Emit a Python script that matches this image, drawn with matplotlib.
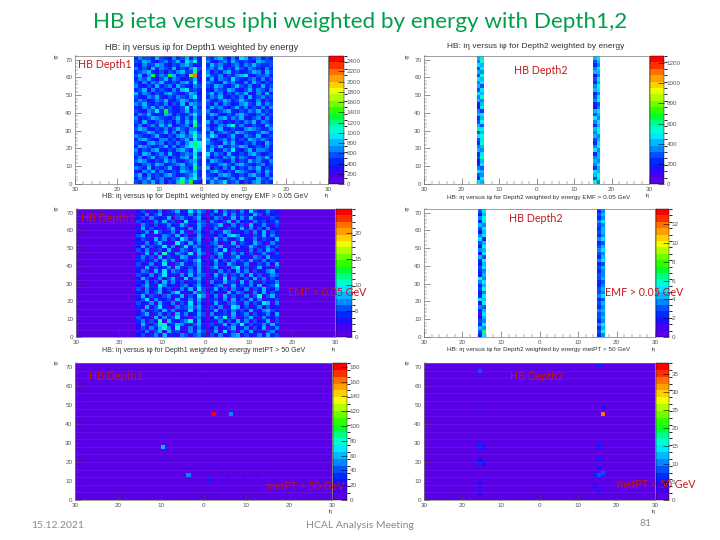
import matplotlib
matplotlib.use('Agg')
import matplotlib.pyplot as plt
import numpy as np
from matplotlib.colors import ListedColormap, BoundaryNorm

# levels of the 20 step root palette, written as base 32 digits, top row (ieta 70) first
# columns are iphi -16..-1 then 1..16
depth1_levels = [
    "3544364325346353" + "4356425376345343",
    "4365324534637583" + "5324536434326544",
    "3253465324356423" + "3645324535464334",
    "5342635436243574" + "4536243642543253",
    "3456324243563492" + "5243563423465364",
    "4625a354a6342ch3" + "6435243567324453",
    "3546324635423462" + "3625437432453524",
    "4253546324356383" + "5432645325364243",
    "5324363452643254" + "4365324643523634",
    "3462534325367343" + "3254365324635425",
    "6354243564324652" + "4635243546325363",
    "4325463243543573" + "3546324352634534",
    "3542354632465343" + "5324653464325243",
    "5463243524362654" + "4253542356436354",
    "3254635342347363" + "3645324635243525",
    "4325473a43246354" + "5324563243546343",
    "3546323652433574" + "4653243564324534",
    "5234654324635363" + "3425635463245253",
    "4363245342536483" + "6354232435463543",
    "3524536462345294" + "4235468353243264",
    "4653243524643553" + "5346324325654335",
    "3246534635253674" + "3624543654234653",
    "5432463243564585" + "4753246325436234",
    "3564325534246374" + "6324535243654543",
    "4325645243535798" + "5432646324353264",
    "3654234635246797" + "3546235465234353",
    "5243563243564386" + "4623547324635543",
    "4365245363245473" + "7354263243564234",
    "3524634524356384" + "5243546354235463",
    "4653243645324563" + "3654235243645325",
    "3245365234563473" + "4325643564324534",
    "5436243463254394" + "6243536243546243",
    "3254635324365463" + "3564243654325364",
    "4625343564234573" + "4325653243564253",
    "3546245324574684" + "5463245364326435",
    "4354635243695a33" + "3645734524356343",
]
# these are one level under the colours seen, depth1_emf_lift puts them back
depth1_emf_lift = 1
depth1_emf_levels = [
    "1302140235126353" + "2514230416312421",
    "2140351203214142" + "3125042321530312",
    "1304212503421351" + "1430251425212031",
    "3120425130162143" + "4213504120423124",
    "0421302412530253" + "2350141305124203",
    "2513120351204152" + "1402321524031412",
    "1240631241520341" + "3125402130415031",
    "3512014325130152" + "2031564120325142",
    "1320524031642350" + "1524203612403215",
    "2041352107315242" + "3402150321531042",
    "1523026140261431" + "1350224125302413",
    "3140231520431352" + "2416130204132530",
    "0251407214326153" + "1352042413024213",
    "2413051320541240" + "3041235120431522",
    "1302415240132461" + "2513042315204131",
    "3124026103521352" + "1420531240132415",
    "2051312405213151" + "3512046130251203",
    "1430526143024252" + "2041315240312451",
    "3214036120415143" + "1524032415130243",
    "0531240352061452" + "2306142031524131",
    "2140315241302241" + "4125230514203124",
    "1352064120341352" + "1340251324150236",
    "3041251302415163" + "2513042140325214",
    "1240351246021533" + "3120514302415031",
    "2513203412503174" + "1405231240371352",
    "1360421305214252" + "2314051325140213",
    "3124052140316141" + "1520342041326504",
    "2051362014235352" + "3140265130241312",
    "0412315240126141" + "2503142315204531",
    "1350241305241253" + "4123051240312415",
    "3120514236120342" + "1537240135204213",
    "2403170521347151" + "2041315240312503",
    "1520386125420352" + "3125042713024152",
    "0314257417204142" + "1402351240315024",
    "2140351523014253" + "2516130425120341",
    "1302415120431342" + "3041245130241523",
]
# rows are again top first, columns iphi -16, -15 then 15, 16
depth2_levels = [
    "6767", "5846", "7635", "4757", "6566", "4825", "7647", "5736", "6458",
    "4767", "7635", "5847", "6558", "3634", "1725", "5367", "6746", "3675",
    "4857", "6436", "9768", "4658", "7865", "4746", "3837", "5658", "6575",
    "3736", "4856", "2665", "3757", "5436", "7676", "4568", "3749", "7685",
]
depth2_emf_levels = [
    "4735", "2646", "5835", "3757", "6545", "4736", "2646", "5735", "7357",
    "4634", "2846", "5657", "2745", "6436", "3857", "2634", "4746", "3535",
    "2645", "8546", "5734", "3635", "4846", "2545", "3757", "7634", "2846",
    "5435", "3656", "0745", "2646", "4535", "3757", "6536", "4948", "2735",
]
# sparse met panels: iphi, ieta, energy
met1_phi = [2.5, 6.5, -9.5, -3.5, 1.5, 5, 9, 12.5, -4.5, -0.5, -3.5]
met1_eta = [44, 44, 27, 12, 10, 11, 11, 11, 64, 64, 6]
met1_val = [178, 52, 62, 55, 28, 17, 17, 12, 14, 14, 8]
met2_phi = [-15.5, -15.5, -15.5, -15.5, -14.5, -15.5, -15.5, -14.5, -15.5, -15.5,
            15.5, 16.5, 16.5, 15.5, 15.5, 15.5, 14.5, 15.5, 16.5, 15.5, 14.5, 15.5]
met2_eta = [67, 46, 29, 27, 27, 20, 18, 18, 8, 2,
            70, 44, 48, 29, 27, 20, 12, 12, 13, 16, 7, 3]
met2_val = [8, 6, 6, 6, 4, 5, 6, 4, 4, 4, 6, 33, 4, 6, 4, 6, 7, 8, 9, 4, 4, 4]

palette = ['#5a00e6', '#4400f0', '#1a10ff', '#0028ff', '#0050ff', '#0088ff', '#00b8ff',
           '#00e8ff', '#00ffd0', '#00ff80', '#00ff30', '#30ff00', '#70ff00', '#b0ff00',
           '#f0ff00', '#ffd000', '#ffa000', '#ff7000', '#ff3000', '#ff0000']
cmap = ListedColormap(palette)
cmap.set_bad('white')

RED = '#c4161c'
GREY = '#8a8a8a'
TXT = '#555555'


def px_axes(fig, x0, y0, x1, y1):
    return fig.add_axes([x0 / 720, 1 - y1 / 540, (x1 - x0) / 720, (y1 - y0) / 540])


def px_text(fig, x, y, s, **kw):
    kw.setdefault('ha', 'center')
    kw.setdefault('va', 'center')
    fig.text(x / 720, 1 - y / 540, s, **kw)


def wide_grid(rows, step, blank, lift=0):
    grid = np.full((72, 60), np.nan if blank else 0.0)
    for r, row in enumerate(rows):
        for c, ch in enumerate(row):
            col = c + 14 if c < 16 else c + 15
            val = (int(ch, 32) + lift + 0.5) * step
            if blank and int(ch, 32) == 0:
                val = np.nan
            grid[70 - 2 * r, col] = val
            grid[71 - 2 * r, col] = val
    return grid


def strip_grid(rows, step, blank):
    grid = np.full((72, 60), np.nan if blank else 0.0)
    for r, row in enumerate(rows):
        for col, ch in zip([14, 15, 45, 46], row):
            val = (int(ch, 32) + 0.5) * step
            grid[70 - 2 * r, col] = val
            grid[71 - 2 * r, col] = val
    return grid


def spot_grid(phi, eta, val):
    grid = np.zeros((72, 60))
    for p, e, v in zip(phi, eta, val):
        grid[int(e), int(np.floor(p)) + 30] = v
        grid[int(e) + 1, int(np.floor(p)) + 30] = v
    return grid


def draw_panel(fig, box, cbar_right, grid, vmax, cticks, ylabel_x, lines=False):
    x0, y0, x1, y1 = box
    ax = px_axes(fig, x0, y0, x1, y1)
    bounds = np.linspace(0, vmax, 21)
    norm = BoundaryNorm(bounds, 20)
    xe = np.arange(-30, 31)
    ye = np.arange(0, 73)
    m = ax.pcolormesh(xe, ye, np.ma.masked_invalid(grid), cmap=cmap, norm=norm)
    ax.set_xlim(-30, 30)
    ax.set_ylim(0, 72)
    ax.set_xticks(np.arange(-30, 31, 10))
    ax.set_xticklabels(['30', '20', '10', '0', '10', '20', '30'])
    ax.set_xticks(np.arange(-30, 31, 2), minor=True)
    ax.set_yticks(np.arange(0, 71, 10))
    ax.set_yticks(np.arange(0, 73, 2), minor=True)
    ax.tick_params(which='major', length=4, width=0.4, labelsize=4.5, labelcolor=TXT,
                   direction='in', pad=2, color='#444444')
    ax.tick_params(which='minor', length=2, width=0.3, direction='in', color='#444444')
    if lines:
        # the faint lighter cell rows seen on the filled panels
        ax.hlines(np.arange(4, 72, 4), -30, 30, color='white', lw=0.4, alpha=0.12)
    for s in ax.spines.values():
        s.set_linewidth(0.5)
        s.set_color('#777777')
    cax = px_axes(fig, x1 + 1, y0, cbar_right, y1)
    cb = fig.colorbar(m, cax=cax, ticks=cticks, spacing='proportional', drawedges=False)
    cb.ax.tick_params(length=4, width=0.4, labelsize=4.5, labelcolor=TXT, direction='in', pad=2)
    cb.outline.set_linewidth(0.3)
    px_text(fig, ylabel_x, y0 + 1, 'iφ', fontsize=4, color=TXT)
    px_text(fig, x1 - 1, y1 + 12, 'iη', fontsize=4, color=TXT)
    return ax


plt.rcParams['font.family'] = ['Liberation Sans', 'DejaVu Sans']
fig = plt.figure(figsize=(7.2, 5.4), dpi=100)

draw_panel(fig, (75, 56, 328, 184), 344, wide_grid(depth1_levels, 125, True), 2500,
           np.arange(0, 2401, 200), 56)
draw_panel(fig, (424, 56, 649, 184), 664, strip_grid(depth2_levels, 63.5, True), 1270,
           np.arange(0, 1201, 200), 407)
draw_panel(fig, (76, 209, 335, 337), 352,
           wide_grid(depth1_emf_levels, 1.23, False, lift=depth1_emf_lift), 24.6,
           np.arange(0, 21, 5), 56, lines=True)
draw_panel(fig, (424, 209, 655, 337), 669, strip_grid(depth2_emf_levels, 0.68, True), 13.6,
           np.arange(0, 13, 2), 407)
draw_panel(fig, (75, 363, 332, 500), 347, spot_grid(met1_phi, met1_eta, met1_val), 185,
           np.arange(0, 181, 20), 56, lines=True)
draw_panel(fig, (424, 363, 655, 500), 669, spot_grid(met2_phi, met2_eta, met2_val), 38,
           np.arange(0, 36, 5), 407, lines=True)

px_text(fig, 360, 22, 'HB ieta versus iphi weighted by energy with Depth1,2',
        fontsize=16.2, color='#00a04a', family=['Lato', 'DejaVu Sans'])

# root titles above and below the panels
px_text(fig, 202, 47, 'HB: iη versus iφ for Depth1 weighted by energy', fontsize=6.6, color='#333333')
px_text(fig, 536, 47, 'HB: iη versus iφ for Depth2 weighted by energy', fontsize=6, color='#333333')
px_text(fig, 205, 197, 'HB: iη versus iφ for Depth1 weighted by energy EMF > 0.05 GeV', fontsize=5.1, color='#333333')
px_text(fig, 539, 197, 'HB: iη versus iφ for Depth2 weighted by energy EMF > 0.05 GeV', fontsize=4.6, color='#333333')
px_text(fig, 204, 350, 'HB: iη versus iφ for Depth1 weighted by energy metPT > 50 GeV', fontsize=5.05, color='#333333')
px_text(fig, 539, 350, 'HB: iη versus iφ for Depth2 weighted by energy metPT > 50 GeV', fontsize=4.6, color='#333333')

# red labels put on the slide
labels = [(105, 64, 'HB Depth1'), (541, 71, 'HB Depth2'), (108, 218, 'HB Depth1'),
          (536, 218, 'HB Depth2'), (327, 292, 'EMF > 0.05 GeV'), (644, 292, 'EMF > 0.05 GeV'),
          (116, 377, 'HB Depth1'), (537, 377, 'HB Depth2'), (305, 487, 'metPT > 50 GeV'),
          (656, 485, 'metPT > 50 GeV')]
for lx, ly, s in labels:
    px_text(fig, lx, ly, s, fontsize=7.7, color=RED, family=['Lato', 'DejaVu Sans'], zorder=10)

px_text(fig, 58, 526, '15.12.2021', fontsize=7.5, color=GREY, family=['Lato', 'DejaVu Sans'])
px_text(fig, 360, 526, 'HCAL Analysis Meeting', fontsize=7.5, color=GREY, family=['Lato', 'DejaVu Sans'])
px_text(fig, 645, 524, '81', fontsize=7.5, color=GREY, family=['Lato', 'DejaVu Sans'])

fig.savefig('out.png', dpi=100)
